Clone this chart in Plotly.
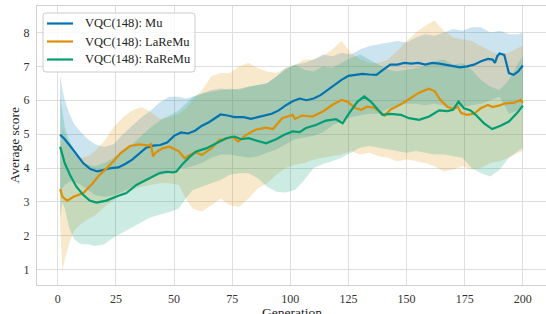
import plotly.graph_objects as go

# ---------------- data ----------------
MU_GEN = [1,3,5,8,11,14,17,20,23,26,29,32,35,38,41,44,47,50,53,56,59,62,65,68,70,73,76,80,83,86,89,92,95,98,101,104,107,110,113,116,119,122,125,128,131,134,137,140,143,146,149,152,155,158,161,164,167,170,173,176,179,182,185,187,188,189,190,192,193,194,196,198,200]
MU_MEAN = [4.98,4.85,4.68,4.4,4.14,3.97,3.9,3.95,4.0,4.02,4.12,4.25,4.42,4.6,4.66,4.68,4.75,4.95,5.05,5.02,5.1,5.25,5.35,5.5,5.58,5.55,5.5,5.5,5.45,5.5,5.55,5.6,5.7,5.85,5.97,6.05,6.0,6.05,6.15,6.3,6.45,6.6,6.72,6.75,6.78,6.76,6.75,6.9,7.05,7.05,7.1,7.08,7.1,7.05,7.1,7.08,7.05,7.0,6.97,7.0,7.05,7.15,7.22,7.2,7.1,7.3,7.38,7.34,7.1,6.8,6.75,6.85,7.03]

LA_GEN = [1,2,4,7,11,15,18,21,25,27,31,35,39,40,41,42,45,48,52,54.5,57,59,62,66,69.5,72,75,77.5,81,85,89.5,92.5,96.5,101,102,105,109.5,114,118,122,124.5,128,130.5,133,136,139,140.5,143,147.5,151,155,159.5,162,164.5,167.5,170,172,173.5,176,179,182,185,187,190,192.5,196,199,200]
LA_MEAN = [3.38,3.15,3.04,3.16,3.26,3.55,3.8,3.99,4.28,4.44,4.65,4.7,4.66,4.7,4.34,4.45,4.58,4.63,4.5,4.29,4.39,4.47,4.39,4.58,4.83,4.85,4.93,4.78,4.98,5.13,5.19,5.15,5.47,5.57,5.45,5.55,5.52,5.67,5.86,6.01,5.96,5.77,5.72,5.81,5.78,5.62,5.55,5.72,5.88,6.03,6.21,6.34,6.27,6.01,5.81,5.75,5.8,5.62,5.57,5.6,5.77,5.86,5.8,5.85,5.91,5.92,6.01,5.92]

RA_GEN = [1,3,5.2,8,10.9,13.7,16.6,20.9,25.2,29.5,33.8,38.1,41,43.8,46.6,49.5,51,53.8,56.7,59.5,63.8,68.1,72.4,76,78.8,82,86,89.6,93.9,97.4,101,104,106.7,111,115.3,119.6,122.5,125.3,128.9,131.8,134.6,137.5,139.6,143,147.5,151,155.4,159.7,164,167.5,170,172.3,174.7,177.5,179.7,183.3,186.8,190.4,194,197.5,200]
RA_MEAN = [4.63,4.14,3.8,3.45,3.21,3.04,2.98,3.04,3.16,3.26,3.5,3.65,3.75,3.85,3.89,3.87,3.9,4.13,4.33,4.49,4.58,4.73,4.88,4.93,4.85,4.88,4.81,4.73,4.85,4.98,5.08,5.06,5.18,5.27,5.4,5.44,5.32,5.62,5.96,6.11,5.96,5.72,5.57,5.6,5.57,5.47,5.42,5.52,5.7,5.68,5.72,5.96,5.76,5.7,5.57,5.32,5.15,5.25,5.37,5.62,5.84]

BAND_GEN = [1,2,3,5,7,10,13,16,20,24,28,32,36,40,44,48,52,55,58,62,66,70,74,78,82,86,90,94,98,102,106,110,114,118,122,126,130,134,138,142,146,150,154,158,162,166,170,174,178,182,186,190,194,198,200]
MU_UPPER = [6.75,6.3,6.0,5.6,5.3,5.05,4.85,4.7,4.62,4.7,5.0,5.25,5.5,5.7,5.95,6.1,6.1,6.05,6.1,6.2,6.3,6.35,6.3,6.35,6.4,6.45,6.5,6.7,6.9,7.05,7.1,7.2,7.35,7.3,7.4,7.35,7.5,7.6,7.65,7.7,7.75,7.7,7.85,7.95,7.9,8.0,8.1,8.05,8.15,8.15,8.0,8.05,7.95,7.95,8.0]
MU_LOWER = [3.2,3.4,3.5,3.6,3.6,3.5,3.35,3.2,3.15,3.2,3.3,3.45,3.6,3.75,3.8,3.85,4.0,4.0,4.05,4.15,4.3,4.4,4.4,4.35,4.3,4.35,4.45,4.55,4.7,4.85,4.9,4.95,5.05,5.25,5.4,5.5,5.55,5.6,5.6,5.75,5.85,5.9,5.9,5.85,5.9,5.85,5.8,5.8,5.85,5.9,6.0,6.1,5.6,5.7,5.8]
LA_UPPER = [4.4,5.2,5.0,4.6,4.4,4.3,4.35,4.5,4.8,5.2,5.5,5.7,5.8,5.65,5.45,5.5,5.6,5.75,6.0,6.3,6.7,6.8,6.8,7.0,7.1,6.95,6.85,6.8,6.95,7.05,7.2,7.2,7.3,7.5,7.75,7.4,7.2,7.1,7.1,7.2,7.45,7.75,8.0,8.2,8.35,8.05,7.85,7.8,7.75,7.6,7.45,7.35,7.4,7.55,7.6]
LA_LOWER = [2.3,0.95,1.3,1.8,2.15,2.35,2.5,2.6,2.85,3.05,3.25,3.35,3.45,3.5,3.55,3.55,3.5,3.1,2.8,2.72,2.9,3.1,2.9,2.85,3.1,3.4,3.55,3.8,4.0,4.1,4.15,4.25,4.3,4.35,4.4,4.5,4.4,4.45,4.35,4.3,4.2,4.25,4.2,4.15,4.05,3.9,3.95,4.05,3.95,4.0,4.15,4.2,4.3,4.45,4.5]
RA_UPPER = [6.1,5.6,5.2,4.8,4.5,4.2,4.1,4.05,4.15,4.3,4.5,4.7,4.95,5.2,5.4,5.55,5.7,5.9,6.1,6.2,6.25,6.3,6.35,6.3,6.4,6.45,6.5,6.7,6.95,7.05,6.9,6.85,7.0,6.95,7.1,7.25,7.35,7.2,7.05,6.9,6.85,6.9,6.95,7.0,7.15,7.2,7.05,7.1,6.9,6.6,6.4,6.3,6.6,7.1,7.3]
RA_LOWER = [2.5,3.0,2.8,2.2,1.9,1.75,1.75,1.7,1.75,1.95,2.1,2.25,2.4,2.55,2.62,2.7,2.8,3.1,3.35,3.45,3.55,3.65,3.8,3.85,3.85,3.7,3.45,3.3,3.28,3.35,3.65,4.0,4.12,4.2,4.3,4.45,4.6,4.65,4.6,4.55,4.5,4.45,4.5,4.45,4.4,4.4,4.35,4.3,4.0,3.85,3.75,3.95,4.3,4.5,4.6]

X_TICKS = [0, 25, 50, 75, 100, 125, 150, 175, 200]
Y_TICKS = [1, 2, 3, 4, 5, 6, 7, 8]
X_TITLE = "Generation"
Y_TITLE = "Average score"

SERIES = [
    ("VQC(148): Mu", MU_GEN, MU_MEAN, MU_UPPER, MU_LOWER, "#0173B2", "rgba(1,115,178,0.2)"),
    ("VQC(148): LaReMu", LA_GEN, LA_MEAN, LA_UPPER, LA_LOWER, "#DE8F05", "rgba(222,143,5,0.2)"),
    ("VQC(148): RaReMu", RA_GEN, RA_MEAN, RA_UPPER, RA_LOWER, "#029E73", "rgba(2,158,115,0.2)"),
]

FONT = "Liberation Serif"
W, H = 546, 314
ML, MR, MT, MB = 37, 0, 6, 29
PW, PH = W - ML - MR, H - MT - MB


def px2paper(px, py):
    return (px - ML) / PW, (H - MB - py) / PH


fig = go.Figure()
for name, gx, gm, up, lo, col, fcol in SERIES:
    fig.add_trace(go.Scatter(
        x=BAND_GEN + BAND_GEN[::-1], y=up + lo[::-1],
        fill="toself", fillcolor=fcol, line=dict(width=0),
        mode="lines", hoverinfo="skip", showlegend=False))
for name, gx, gm, up, lo, col, fcol in SERIES:
    fig.add_trace(go.Scatter(
        x=gx, y=gm, mode="lines", name=name, showlegend=False,
        line=dict(color=col, width=2.2)))

# ---- custom legend (matplotlib-like box) ----
shapes = []
annotations = []
bx0, by0, bx1, by1, r = 43, 13, 195, 72, 3
(x0, y0), (x1, y1) = px2paper(bx0, by0), px2paper(bx1, by1)
rx, ry = r / PW, r / PH
path = (f"M {x0+rx},{y0} L {x1-rx},{y0} Q {x1},{y0} {x1},{y0-ry} "
        f"L {x1},{y1+ry} Q {x1},{y1} {x1-rx},{y1} L {x0+rx},{y1} "
        f"Q {x0},{y1} {x0},{y1+ry} L {x0},{y0-ry} Q {x0},{y0} {x0+rx},{y0} Z")
shapes.append(dict(type="path", xref="paper", yref="paper", path=path,
                   fillcolor="rgba(255,255,255,0.8)", line=dict(color="#cccccc", width=1),
                   layer="above"))
for i, (name, gx, gm, up, lo, col, fcol) in enumerate(SERIES):
    ly = 23.5 + 18 * i
    (lx0, lyp), (lx1, _) = px2paper(47, ly), px2paper(73, ly)
    shapes.append(dict(type="line", xref="paper", yref="paper", x0=lx0, x1=lx1, y0=lyp, y1=lyp,
                       line=dict(color=col, width=2.2), layer="above"))
    tx, _ = px2paper(83, ly)
    annotations.append(dict(text=name, xref="paper", yref="paper", x=tx, y=lyp,
                            xanchor="left", yanchor="middle", showarrow=False,
                            font=dict(family=FONT, size=12.5, color="#222222")))

xt, yt = px2paper(291.5, 312.5)
annotations.append(dict(text=X_TITLE, xref="paper", yref="paper", x=xt, y=yt,
                        xanchor="center", yanchor="middle", showarrow=False,
                        font=dict(family=FONT, size=13.5, color="#222222")))
xt, yt = px2paper(14, 145.5)
annotations.append(dict(text=Y_TITLE, xref="paper", yref="paper", x=xt, y=yt,
                        xanchor="center", yanchor="middle", textangle=-90, showarrow=False,
                        font=dict(family=FONT, size=13.5, color="#222222")))

axis_common = dict(
    showgrid=True, gridcolor="#dedede", gridwidth=1,
    zeroline=False, showline=True, linecolor="#d0d0d0", linewidth=1,
    mirror=True, ticks="", tickfont=dict(family=FONT, size=12, color="#333333"),
    automargin=False,
)
fig.update_layout(
    width=W, height=H,
    margin=dict(l=ML, r=MR, t=MT, b=MB),
    paper_bgcolor="white", plot_bgcolor="white",
    font=dict(family=FONT, size=12, color="#333333"),
    xaxis=dict(range=[-8.95, 209.95], tickvals=X_TICKS, ticklabelstandoff=3, **axis_common),
    yaxis=dict(range=[0.55, 8.78], tickvals=Y_TICKS, ticklabelstandoff=4, **axis_common),
    showlegend=False,
    shapes=shapes,
    annotations=annotations,
)

fig.write_html("out.html", config={"displayModeBar": False},
               post_script="document.body.style.margin='0';document.body.style.overflow='hidden';")
